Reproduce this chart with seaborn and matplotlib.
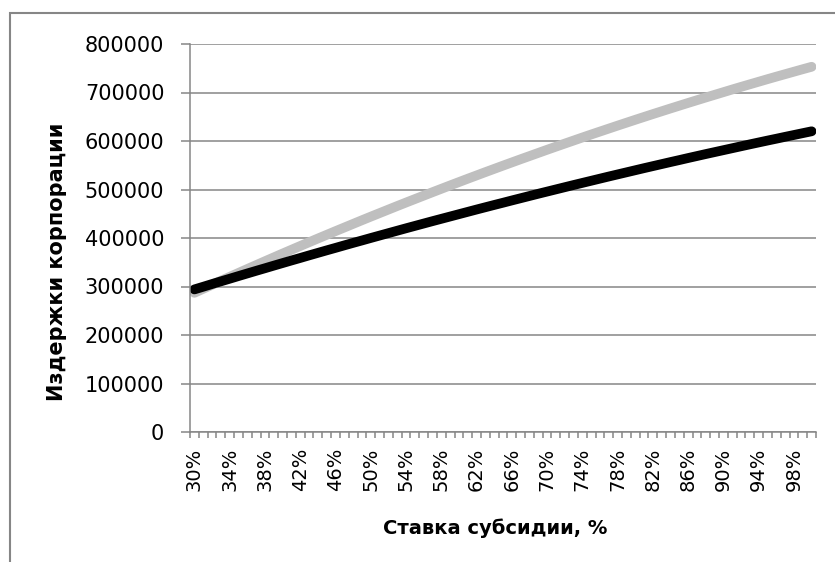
import numpy as np
import pandas as pd
import matplotlib
matplotlib.use("Agg")
import matplotlib.pyplot as plt
import seaborn as sns
from matplotlib.patches import Rectangle

# subsidy rate categories 30% .. 100%
rates = list(range(30, 101))

# light (gray) series
costs_light = [
    287000, 295300, 303600, 311800, 319900, 328000, 336100, 344100, 352100, 360000,
    367900, 375700, 383500, 391200, 398900, 406500, 414100, 421600, 429100, 436600,
    444000, 451300, 458600, 465900, 473100, 480200, 487300, 494400, 501400, 508400,
    515300, 522200, 529000, 535800, 542500, 549200, 555800, 562400, 568900, 575400,
    581900, 588300, 594600, 600900, 607200, 613400, 619500, 625600, 631700, 637700,
    643700, 649600, 655500, 661300, 667100, 672800, 678500, 684100, 689700, 695200,
    700700, 706200, 711600, 716900, 722200, 727500, 732700, 737800, 742900, 748000,
    753000,
]

# dark (black) series
costs_dark = [
    294000, 299500, 305100, 310600, 316000, 321500, 326900, 332300, 337600, 343000,
    348300, 353600, 358800, 364100, 369300, 374500, 379600, 384800, 389900, 394900,
    400000, 405000, 410000, 415000, 420000, 424900, 429800, 434700, 439500, 444300,
    449100, 453900, 458700, 463400, 468100, 472700, 477400, 482000, 486600, 491200,
    495700, 500200, 504700, 509200, 513600, 518000, 522400, 526800, 531100, 535400,
    539700, 544000, 548200, 552400, 556600, 560700, 564900, 569000, 573100, 577100,
    581100, 585100, 589100, 593100, 597000, 600900, 604700, 608600, 612400, 616200,
    620000,
]

tick_labels = [f"{r}%" for r in rates]

df = pd.DataFrame({
    "idx": list(range(len(rates))) * 2,
    "cost": costs_light + costs_dark,
    "series": ["light"] * len(rates) + ["dark"] * len(rates),
})

sns.set_style("white")
plt.rcParams["font.family"] = ["DejaVu Sans"]
plt.rcParams["lines.solid_capstyle"] = "round"
plt.rcParams["text.color"] = "black"
plt.rcParams["xtick.color"] = "black"
plt.rcParams["ytick.color"] = "black"
plt.rcParams["axes.labelcolor"] = "black"

grid_col = "#868686"

fig = plt.figure(figsize=(8.35, 5.62), dpi=100)
ax = fig.add_axes([190 / 835, 1 - 432 / 562, 626 / 835, 388 / 562])

sns.lineplot(data=df, x="idx", y="cost", hue="series",
             hue_order=["light", "dark"],
             palette=["#bfbfbf", "#000000"],
             linewidth=7, legend=False, ax=ax)

ax.set_xlim(-0.5, len(rates) - 0.5)
ax.set_ylim(0, 800000)
ax.set_yticks(np.arange(0, 800001, 100000))
ax.yaxis.grid(True, color=grid_col, linewidth=1.1)
ax.set_axisbelow(True)

# labels every 4th category, tick marks at category boundaries
ax.set_xticks(range(0, len(rates), 4))
ax.set_xticklabels(tick_labels[::4], rotation=90)
ax.set_xticks(np.arange(-0.5, len(rates), 1.0), minor=True)
ax.tick_params(axis="x", which="major", length=0, pad=11, labelsize=14,
               labelcolor="black")
ax.tick_params(axis="x", which="minor", length=4, width=1.1, color=grid_col,
               direction="out", bottom=True)
ax.tick_params(axis="y", which="major", length=6.5, width=1.1, color=grid_col,
               direction="out", left=True, pad=12, labelsize=15,
               labelcolor="black")

for s in ["top", "right"]:
    ax.spines[s].set_visible(False)
for s in ["left", "bottom"]:
    ax.spines[s].set_color(grid_col)
    ax.spines[s].set_linewidth(1.1)

ax.set_xlabel("Ставка субсидии, %", fontsize=14, fontweight="bold")
ax.set_ylabel("Издержки корпорации", fontsize=15, fontweight="bold")
ax.xaxis.set_label_coords(0.487, -0.222)
ax.yaxis.set_label_coords(-0.196, 0.438)

# outer chart border
fig.patches.append(Rectangle((10 / 835, -0.1), 2, (562 - 13) / 562 + 0.1,
                             transform=fig.transFigure, fill=False,
                             edgecolor=grid_col, linewidth=1.5))

fig.savefig("out.png", dpi=100)
